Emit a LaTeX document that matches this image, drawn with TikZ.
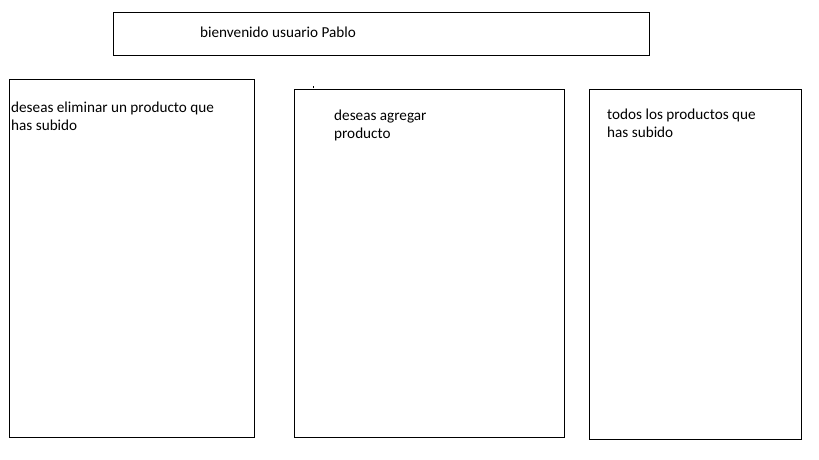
\documentclass[tikz,border=0pt]{standalone}
\usepackage{fontspec}
\setmainfont{Carlito}
\begin{document}
\begin{tikzpicture}[x=1pt,y=-1pt,
  box/.style={draw=black,line width=1pt,fill=none},
  lbl/.style={anchor=base west,inner sep=0pt,font=\fontsize{15.2}{18}\selectfont,text=black}]
\useasboundingbox (0,0) rectangle (819,460);
\fill[white] (0,0) rectangle (819,460);
\draw[box] (113.5,12.5) rectangle (649.5,55.5);
\draw[box] (9.5,79.5) rectangle (254.5,437.5);
\draw[box] (294.5,89.5) rectangle (564.5,437.5);
\draw[box] (589.5,89.5) rectangle (801.5,439.5);
\draw[line width=0.8pt] (313,86) -- (313,88);
\node[lbl] (t1) at (200,38) {bienvenido usuario Pablo};
\node[lbl] (l1) at (11,112) {deseas eliminar un producto que};
\node[lbl] (l2) at (11,130) {has subido};
\node[lbl] (m1) at (334,120) {deseas agregar};
\node[lbl] (m2) at (334,138) {producto};
\node[lbl] (r1) at (607,119) {todos los productos que};
\node[lbl] (r2) at (607,137) {has subido};
\end{tikzpicture}
\end{document}
